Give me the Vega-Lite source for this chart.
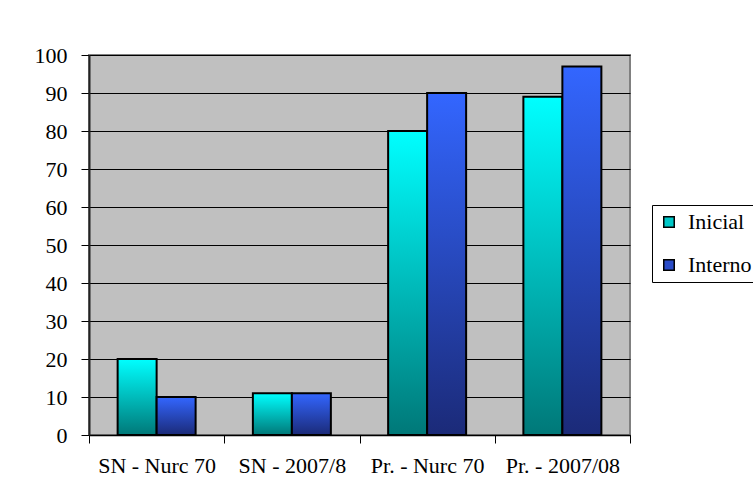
{
  "$schema": "https://vega.github.io/schema/vega-lite/v6.json",
  "width": 541,
  "height": 380,
  "autosize": {"type": "none"},
  "padding": {"left": 89, "top": 55, "right": 123, "bottom": 67},
  "background": "white",
  "data": {
    "values": [
      {"grupo": "SN - Nurc 70", "serie": "Inicial", "valor": 20},
      {"grupo": "SN - Nurc 70", "serie": "Interno", "valor": 10},
      {"grupo": "SN - 2007/8", "serie": "Inicial", "valor": 11},
      {"grupo": "SN - 2007/8", "serie": "Interno", "valor": 11},
      {"grupo": "Pr. - Nurc 70", "serie": "Inicial", "valor": 80},
      {"grupo": "Pr. - Nurc 70", "serie": "Interno", "valor": 90},
      {"grupo": "Pr. - 2007/08", "serie": "Inicial", "valor": 89},
      {"grupo": "Pr. - 2007/08", "serie": "Interno", "valor": 97}
    ]
  },
  "encoding": {
    "x": {
      "field": "grupo",
      "type": "nominal",
      "sort": null,
      "scale": {"paddingInner": 0, "paddingOuter": 0},
      "axis": {
        "title": null,
        "labelAngle": 0,
        "tickBand": "extent",
        "tickSize": 8,
        "tickColor": "black",
        "domainColor": "black",
        "domainWidth": 1.5,
        "labelPadding": 12,
        "grid": false
      }
    },
    "xOffset": {
      "field": "serie",
      "type": "nominal",
      "scale": {"domain": ["Inicial", "Interno"], "paddingInner": 0, "paddingOuter": 0.734}
    },
    "y": {
      "field": "valor",
      "type": "quantitative",
      "scale": {"domain": [0, 100], "nice": false},
      "axis": {
        "title": null,
        "values": [0, 10, 20, 30, 40, 50, 60, 70, 80, 90, 100],
        "tickSize": 8,
        "tickColor": "black",
        "domainColor": "#222222",
        "domainWidth": 2,
        "labelPadding": 14,
        "grid": true,
        "gridColor": "black",
        "gridWidth": 1
      }
    }
  },
  "layer": [
    {
      "transform": [{"filter": "datum.serie === 'Inicial'"}],
      "mark": {
        "type": "bar", "stroke": "black", "strokeWidth": 2,
        "fill": {"gradient": "linear", "x1": 0, "y1": 0, "x2": 0, "y2": 1,
          "stops": [{"offset": 0, "color": "#00FFFF"}, {"offset": 1, "color": "#007878"}]}
      }
    },
    {
      "transform": [{"filter": "datum.serie === 'Interno'"}],
      "mark": {
        "type": "bar", "stroke": "black", "strokeWidth": 2,
        "fill": {"gradient": "linear", "x1": 0, "y1": 0, "x2": 0, "y2": 1,
          "stops": [{"offset": 0, "color": "#3366FF"}, {"offset": 1, "color": "#1B2A78"}]}
      }
    },
    {
      "mark": {"type": "square", "opacity": 0},
      "encoding": {
        "fill": {
          "field": "serie",
          "type": "nominal",
          "scale": {"domain": ["Inicial", "Interno"], "range": ["#00C8C8", "#2A4CC8"]},
          "legend": {
            "title": null,
            "orient": "none",
            "legendX": 563,
            "legendY": 150,
            "strokeColor": "black",
            "fillColor": "white",
            "padding": 6,
            "rowPadding": 21,
            "symbolType": "square",
            "symbolSize": 110,
            "symbolOpacity": 1,
            "symbolStrokeColor": "black",
            "symbolStrokeWidth": 1.5,
            "labelOffset": 8,
            "labelFontSize": 22,
            "labelFont": "Liberation Serif",
            "labelColor": "black"
          }
        }
      }
    }
  ],
  "config": {
    "font": "Liberation Serif",
    "view": {"fill": "#C0C0C0", "stroke": "#808080", "strokeWidth": 2},
    "axis": {"labelFont": "Liberation Serif", "labelFontSize": 22, "labelColor": "black"}
  }
}
